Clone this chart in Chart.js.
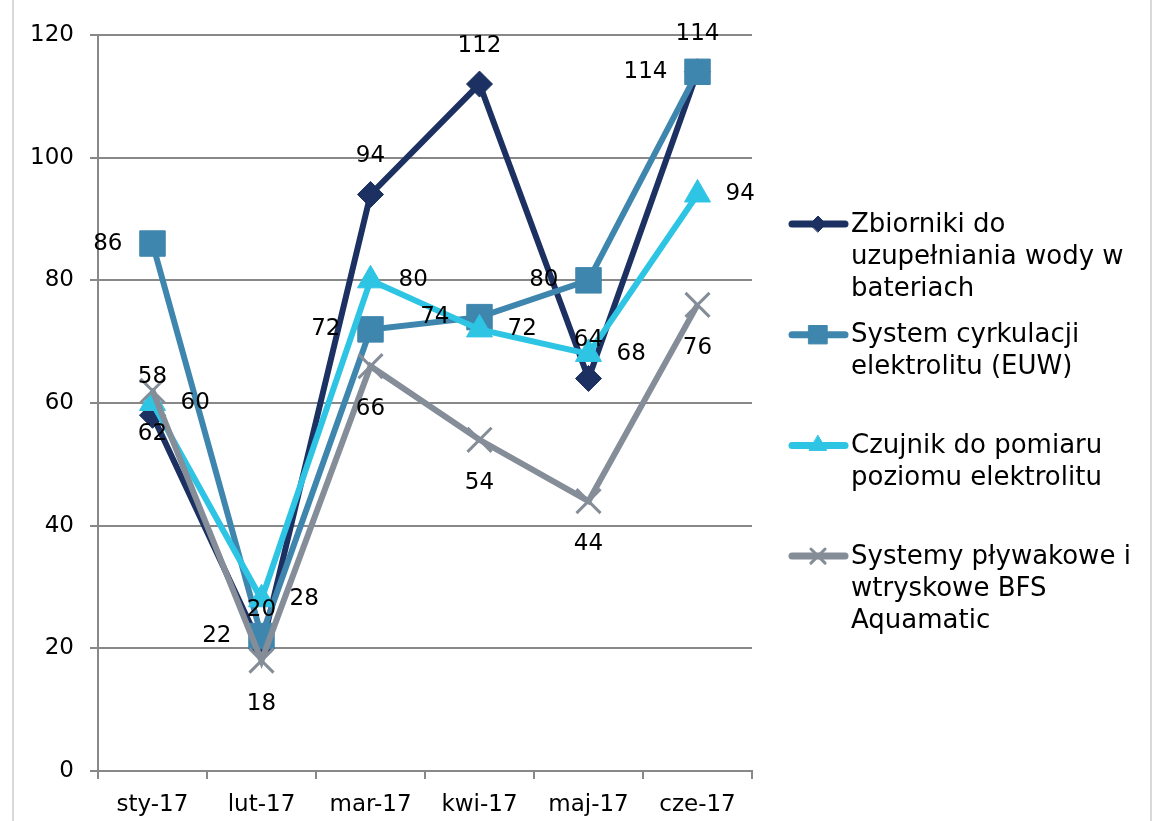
<!DOCTYPE html>
<html>
<head>
<meta charset="utf-8">
<script src="https://cdn.jsdelivr.net/npm/chart.js@4.4.0/dist/chart.umd.min.js"></script>
<style>
  html, body { margin: 0; padding: 0; background: #fff; }
  #wrap { width: 1155px; height: 821px; position: relative; }
</style>
</head>
<body>
<div id="wrap"><canvas id="chart"></canvas></div>
<script>
const months = ['sty-17', 'lut-17', 'mar-17', 'kwi-17', 'maj-17', 'cze-17'];
const yTicks = [0, 20, 40, 60, 80, 100, 120];

const zbiorniki = [58, 20, 94, 112, 64, 114];
const cyrkulacja = [86, 22, 72, 74, 80, 114];
const czujnik = [60, 28, 80, 72, 68, 94];
const plywakowe = [62, 18, 66, 54, 44, 76];

const names = [
  'Zbiorniki do uzupełniania wody w bateriach',
  'System cyrkulacji elektrolitu (EUW)',
  'Czujnik do pomiaru poziomu elektrolitu',
  'Systemy pływakowe i wtryskowe BFS Aquamatic'
];

const FONT = '"DejaVu Sans", sans-serif';
const gridGrey = '#888888';

// where each series puts its value labels
const labelSide = ['above', 'left', 'right', 'below'];

function series(i, data, color, style, radius, width) {
  return {
    label: names[i],
    data: data,
    borderColor: color,
    backgroundColor: color,
    borderWidth: 6,
    tension: 0,
    pointStyle: style,
    pointRadius: radius,
    pointHoverRadius: radius,
    pointBorderWidth: width,
    pointBorderColor: color,
    pointBackgroundColor: color,
    order: 4 - i
  };
}

const frame = {
  id: 'frame',
  beforeDraw(chart) {
    const ctx = chart.ctx;
    ctx.save();
    ctx.fillStyle = '#fff';
    ctx.fillRect(0, 0, chart.width, chart.height);
    ctx.strokeStyle = '#d9d9d9';
    ctx.lineWidth = 2;
    ctx.beginPath();
    ctx.moveTo(13, 0); ctx.lineTo(13, chart.height);
    ctx.moveTo(1151, 0); ctx.lineTo(1151, chart.height);
    ctx.stroke();
    ctx.restore();
  }
};

const valueLabels = {
  id: 'valueLabels',
  afterDatasetsDraw(chart) {
    const ctx = chart.ctx;
    ctx.save();
    ctx.font = '23px ' + FONT;
    ctx.fillStyle = '#000';
    ctx.textBaseline = 'middle';
    chart.data.datasets.forEach((ds, i) => {
      const meta = chart.getDatasetMeta(i);
      meta.data.forEach((pt, j) => {
        const txt = String(ds.data[j]);
        const side = labelSide[i];
        let x = pt.x, y = pt.y;
        if (side === 'above') { ctx.textAlign = 'center'; y -= 38; }
        else if (side === 'below') { ctx.textAlign = 'center'; y += 43; }
        else if (side === 'left') { ctx.textAlign = 'right'; x -= 30; }
        else { ctx.textAlign = 'left'; x += 28; }
        ctx.fillText(txt, x, y);
      });
    });
    ctx.restore();
  }
};

function wrap(ctx, text, maxW) {
  const words = text.split(' ');
  const lines = [];
  let cur = '';
  words.forEach(w => {
    const t = cur ? cur + ' ' + w : w;
    if (ctx.measureText(t).width > maxW && cur) { lines.push(cur); cur = w; }
    else cur = t;
  });
  if (cur) lines.push(cur);
  return lines;
}

const sideLegend = {
  id: 'sideLegend',
  afterDraw(chart) {
    const ctx = chart.ctx;
    const legendSizes = [8, 13, 10, 10];
    ctx.save();
    ctx.font = '26px ' + FONT;
    ctx.textBaseline = 'middle';
    ctx.textAlign = 'left';
    chart.data.datasets.forEach((ds, i) => {
      const y0 = 225 + i * 110.7;
      ctx.strokeStyle = ds.borderColor;
      ctx.lineWidth = 7;
      ctx.lineCap = 'round';
      ctx.beginPath();
      ctx.moveTo(792, y0 - 1);
      ctx.lineTo(845, y0 - 1);
      ctx.stroke();
      ctx.fillStyle = ds.backgroundColor;
      ctx.strokeStyle = ds.borderColor;
      ctx.lineWidth = ds.pointStyle === 'crossRot' ? 3 : 1;
      Chart.helpers.drawPoint(ctx, {
        pointStyle: ds.pointStyle,
        radius: legendSizes[i],
        rotation: 0,
        borderWidth: ctx.lineWidth
      }, 818, y0 - 1);
      ctx.fillStyle = '#000';
      wrap(ctx, ds.label, 292).forEach((line, k) => {
        ctx.fillText(line, 851, y0 + k * 32);
      });
    });
    ctx.restore();
  }
};

new Chart(document.getElementById('chart'), {
  type: 'line',
  data: {
    labels: months,
    datasets: [
      series(0, zbiorniki, '#1c3161', 'rectRot', 13, 1),
      series(1, cyrkulacja, '#3f86ae', 'rect', 18, 1),
      series(2, czujnik, '#2ec4e4', 'triangle', 15, 1),
      series(3, plywakowe, '#858d98', 'crossRot', 17, 3)
    ]
  },
  options: {
    responsive: true,
    maintainAspectRatio: false,
    animation: false,
    layout: { padding: { top: 35, right: 403, bottom: 0, left: 0 } },
    plugins: {
      legend: { display: false },
      tooltip: { enabled: false },
      title: { display: false }
    },
    scales: {
      x: {
        offset: true,
        grid: {
          offset: true,
          drawOnChartArea: false,
          color: gridGrey,
          lineWidth: 2,
          tickLength: 8
        },
        border: { color: gridGrey, width: 2 },
        ticks: { color: '#000', font: { family: FONT, size: 23 }, padding: 12, maxRotation: 0 },
        afterFit(s) { s.height = 50; }
      },
      y: {
        min: 0,
        max: 120,
        afterBuildTicks(s) { s.ticks = yTicks.map(v => ({ value: v })); },
        grid: { color: gridGrey, lineWidth: 2, tickLength: 8 },
        border: { color: gridGrey, width: 2 },
        ticks: { color: '#000', font: { family: FONT, size: 23 }, padding: 16 },
        afterFit(s) { s.width = 98; }
      }
    }
  },
  plugins: [frame, valueLabels, sideLegend]
});
</script>
</body>
</html>
